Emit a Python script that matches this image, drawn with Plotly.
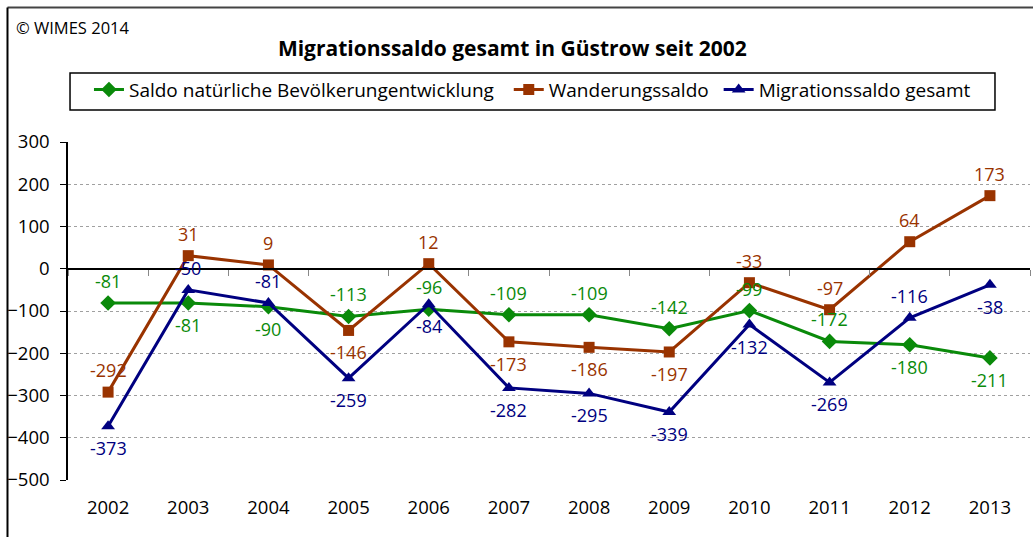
import plotly.graph_objects as go

years = ["2002", "2003", "2004", "2005", "2006", "2007", "2008", "2009", "2010", "2011", "2012", "2013"]
natuerlich = [-81, -81, -90, -113, -96, -109, -109, -142, -99, -172, -180, -211]
wanderung = [-292, 31, 9, -146, 12, -173, -186, -197, -33, -97, 64, 173]
gesamt = [-373, -50, -81, -259, -84, -282, -295, -339, -132, -269, -116, -38]

# label placement: 1 = above, -1 = below
pos_nat = [1, -1, -1, 1, 1, 1, 1, 1, 1, 1, -1, -1]
pos_wan = [1, 1, 1, -1, 1, -1, -1, -1, 1, 1, 1, 1]
pos_ges = [-1, 1, 1, -1, -1, -1, -1, -1, -1, -1, 1, -1]

GREEN = "#0a8a0a"
BROWN = "#993300"
NAVY = "#000080"
FONT = "Open Sans"

series = [
    ("Saldo natürliche Bevölkerungentwicklung\u00a0\u00a0", natuerlich, pos_nat, GREEN, "diamond", 12),
    ("Wanderungssaldo\u00a0", wanderung, pos_wan, BROWN, "square", 11),
    ("Migrationssaldo gesamt", gesamt, pos_ges, NAVY, "triangle-up", 12),
]

fig = go.Figure()
annotations = []
for name, vals, pos, col, sym, msize in series:
    fig.add_trace(go.Scatter(
        x=years, y=vals, name=name, mode="lines+markers",
        line=dict(color=col, width=3), marker=dict(symbol=sym, size=msize, color=col)))
    for i, (v, p) in enumerate(zip(vals, pos)):
        annotations.append(dict(x=i, y=v, xref="x", yref="y", text=str(v), showarrow=False,
                                yshift=22 * p, font=dict(color=col, size=18, family=FONT)))

# invisible trace to activate the zero-crossing category axis
fig.add_trace(go.Scatter(x=[0], y=[0], xaxis="x2", yaxis="y", mode="markers",
                         marker=dict(opacity=0), showlegend=False, hoverinfo="skip"))

annotations.append(dict(text="© WIMES 2014", xref="paper", yref="paper", x=-0.056, y=1.34,
                        xanchor="left", yanchor="middle", showarrow=False,
                        font=dict(size=16.5, family=FONT)))

fig.update_layout(
    width=1033, height=537,
    paper_bgcolor="white", plot_bgcolor="white",
    margin=dict(l=68, r=3, t=142, b=57),
    font=dict(family=FONT, size=18, color="black"),
    title=dict(text="<b>Migrationssaldo gesamt in Güstrow seit 2002</b>", x=0.496, xanchor="center",
               y=0.91, yanchor="middle", font=dict(size=21, family=FONT)),
    showlegend=True,
    legend=dict(orientation="h", x=0.0218, xanchor="left", y=1.211, yanchor="top",
                borderwidth=0, font=dict(size=19, family=FONT), bgcolor="rgba(0,0,0,0)"),
    xaxis=dict(type="category", range=[-0.5, 11.5], showline=False, showgrid=False, ticks="",
               zeroline=False, tickfont=dict(size=18.5), ticklabelstandoff=14),
    xaxis2=dict(range=[-0.5, 11.5], overlaying="x", anchor="free", position=0.625,
                tickvals=[i - 0.5 for i in range(13)], ticks="outside", ticklen=6, tickcolor="#888",
                showticklabels=False, showline=True, linecolor="black", linewidth=1.5,
                showgrid=False, zeroline=False),
    yaxis=dict(range=[-500, 300], tickvals=list(range(-500, 301, 100)),
               showline=True, linecolor="black", linewidth=1.5,
               ticks="outside", ticklen=6, tickcolor="black", ticklabelstandoff=7,
               showgrid=True, gridcolor="#a0a0a0", griddash="dot", gridwidth=1,
               zeroline=False, tickfont=dict(size=18.5)),
    annotations=annotations,
    shapes=[
        # legend frame
        dict(type="rect", xref="paper", yref="paper", x0=0.0021, x1=0.9636, y0=1.0947, y1=1.2041,
             line=dict(color="black", width=1.5), fillcolor="rgba(0,0,0,0)", layer="below"),
        # chart frame (top and left edges)
        dict(type="line", xref="paper", yref="paper", x0=-0.0629, x1=1.05, y0=1.398, y1=1.398,
             line=dict(color="#444", width=2)),
        dict(type="line", xref="paper", yref="paper", x0=-0.0629, x1=-0.0629, y0=-0.2, y1=1.398,
             line=dict(color="black", width=2)),
    ],
)

fig.write_html("out.html", config={"displayModeBar": False},
               post_script="document.body.style.margin='0';")
